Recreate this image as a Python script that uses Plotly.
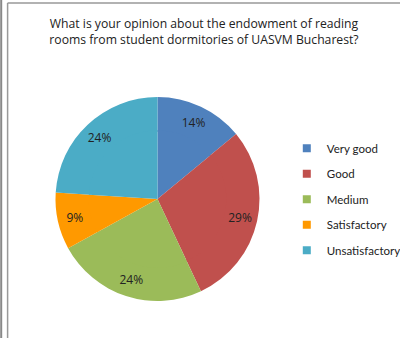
import plotly.graph_objects as go

labels = ["Very good", "Good", "Medium", "Satisfactory", "Unsatisfactory"]
shares = [14, 29, 24, 9, 24]
colors = ["#4F81BD", "#C0504D", "#9BBB59", "#FF9900", "#4BACC6"]

title = "What is your opinion about the endowment of reading<br>rooms from student dormitories of UASVM Bucharest?"

W, H = 400, 338
cx, cy, R = 157.5, 199, 102   # pie centre / radius in px
hole = 0.66                   # labels sit in the outer ring, like the original


def dom(r):
    return dict(x=[(cx - r) / W, (cx + r) / W],
                y=[1 - (cy + r) / H, 1 - (cy - r) / H])


fig = go.Figure()
# outer ring carries the percentage labels
fig.add_trace(go.Pie(
    labels=labels, values=shares, sort=False, direction="clockwise", rotation=0,
    marker=dict(colors=colors, line=dict(width=0)),
    texttemplate="%{value}%", textposition="inside",
    insidetextorientation="horizontal",
    textfont=dict(family="Open Sans", size=12, color="#222222"),
    hole=hole, domain=dom(R), showlegend=False, hoverinfo="label+percent",
))
# inner part fills the hole
fig.add_trace(go.Pie(
    labels=labels, values=shares, sort=False, direction="clockwise", rotation=0,
    marker=dict(colors=colors, line=dict(width=0)),
    textinfo="none", domain=dom(R * hole + 1.5), showlegend=False,
    hoverinfo="label+percent",
))
# legend entries
for i, (lab, col) in enumerate(zip(labels, colors)):
    fig.add_trace(go.Scatter(
        x=[None], y=[None], mode="markers", name=lab, legendgroup=str(i),
        marker=dict(symbol="square", size=8, color=col),
    ))

fig.update_layout(
    width=W, height=H,
    margin=dict(l=0, r=0, t=0, b=0, autoexpand=False),
    paper_bgcolor="white", plot_bgcolor="white",
    font=dict(family="Open Sans", color="#222222"),
    title=dict(text=title, x=0.51, xanchor="center", y=0.917, yanchor="top",
               yref="container", font=dict(size=12.2, color="#222222")),
    legend=dict(x=0.717, y=0.604, xanchor="left", yanchor="top",
                font=dict(family="Lato", size=11.5, color="#222222"),
                itemwidth=30, tracegroupgap=6.5, bgcolor="rgba(0,0,0,0)"),
    xaxis=dict(visible=False), yaxis=dict(visible=False),
    shapes=[
        dict(type="line", xref="paper", yref="paper", x0=0.003, x1=0.003, y0=0, y1=1,
             line=dict(color="#888888", width=2)),
        dict(type="line", xref="paper", yref="paper", x0=0.019, x1=0.019, y0=0, y1=0.991,
             line=dict(color="#999999", width=1.5)),
        dict(type="line", xref="paper", yref="paper", x0=0.019, x1=1, y0=0.991, y1=0.991,
             line=dict(color="#999999", width=1.5)),
    ],
)

# the page body has a default 8px margin; drop it so the figure fills the window
fig.write_html("out.html", config={"displayModeBar": False},
               post_script="document.body.style.margin='0';")
